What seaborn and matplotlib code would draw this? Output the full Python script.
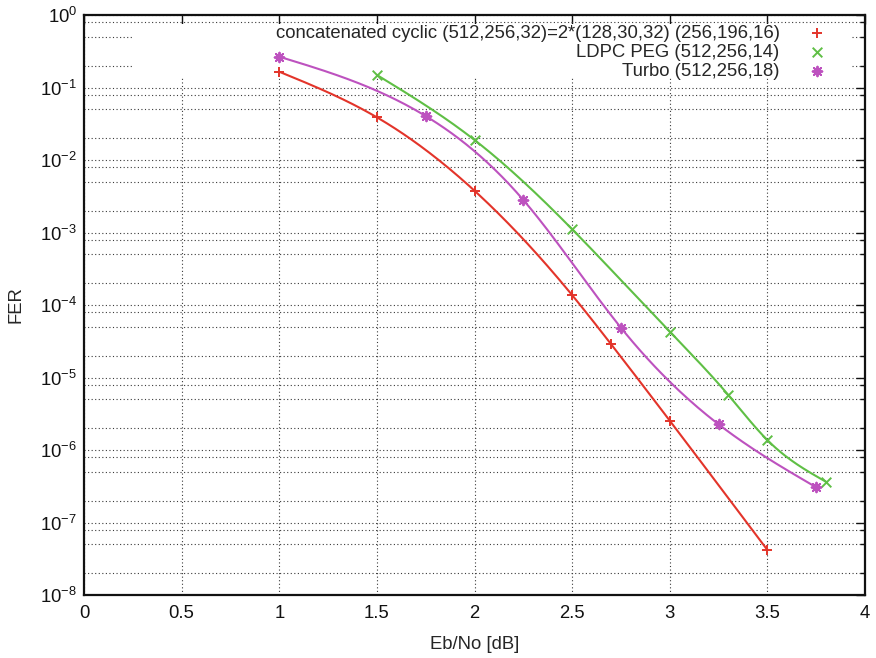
import numpy as np
import pandas as pd
import matplotlib
matplotlib.use("Agg")
import matplotlib.pyplot as plt
import matplotlib.ticker as mticker
from matplotlib.patches import Rectangle
import seaborn as sns

# FER vs Eb/No values
cyc_ebno = [1.0, 1.5, 2.0, 2.5, 2.7, 3.0, 3.5]
cyc_fer = [0.165, 0.0388, 0.00377, 1.37e-4, 2.87e-5, 2.54e-6, 4.18e-8]

ldpc_ebno = [1.5, 2.0, 2.5, 3.0, 3.3, 3.5, 3.8]
ldpc_fer = [0.149, 0.0189, 1.11e-3, 4.28e-5, 5.74e-6, 1.37e-6, 3.65e-7]

turbo_ebno = [1.0, 1.75, 2.25, 2.75, 3.25, 3.75]
turbo_fer = [0.266, 0.0404, 2.81e-3, 4.86e-5, 2.26e-6, 3.06e-7]

labels = ["concatenated cyclic (512,256,32)=2*(128,30,32) (256,196,16)",
          "LDPC PEG (512,256,14)",
          "Turbo (512,256,18)"]
colors = ["#e3342a", "#5fbf45", "#bd52bf"]
markers = ["+", "x", (8, 2, 0)]

sns.set_theme(style="white")
plt.rcParams["font.family"] = ["Liberation Sans", "DejaVu Sans"]
plt.rcParams["axes.unicode_minus"] = False
plt.rcParams["mathtext.default"] = "regular"


def csplines(x, y, n=300):
    # natural cubic spline (like gnuplot "smooth csplines"), done in log10 space
    x = np.asarray(x, float)
    y = np.log10(np.asarray(y, float))
    h = np.diff(x)
    k = len(x)
    A = np.zeros((k, k))
    b = np.zeros(k)
    A[0, 0] = A[-1, -1] = 1
    for i in range(1, k - 1):
        A[i, i - 1] = h[i - 1]
        A[i, i] = 2 * (h[i - 1] + h[i])
        A[i, i + 1] = h[i]
        b[i] = 6 * ((y[i + 1] - y[i]) / h[i] - (y[i] - y[i - 1]) / h[i - 1])
    M = np.linalg.solve(A, b)
    xs = np.linspace(x[0], x[-1], n)
    idx = np.clip(np.searchsorted(x, xs) - 1, 0, k - 2)
    x0, x1, hh = x[idx], x[idx + 1], h[idx]
    ys = (M[idx] * (x1 - xs) ** 3 + M[idx + 1] * (xs - x0) ** 3) / (6 * hh) \
        + (y[idx] / hh - M[idx] * hh / 6) * (x1 - xs) \
        + (y[idx + 1] / hh - M[idx + 1] * hh / 6) * (xs - x0)
    return xs, 10 ** ys


fig = plt.figure(figsize=(8.76, 6.58), dpi=100)
ax = fig.add_axes([84 / 876, 63 / 658, 781 / 876, 580 / 658])

series = [(cyc_ebno, cyc_fer), (ldpc_ebno, ldpc_fer), (turbo_ebno, turbo_fer)]
for (xv, yv), lab, c, m in zip(series, labels, colors, markers):
    xs, ys = csplines(xv, yv)
    sns.lineplot(x=xs, y=ys, color=c, linewidth=1.5, ax=ax, sort=False, zorder=2)
    df = pd.DataFrame({"ebno": xv, "fer": yv})
    sns.scatterplot(data=df, x="ebno", y="fer", marker=m, color=c, s=48,
                    linewidth=1.4, ax=ax, label=lab, zorder=3)

ax.set_yscale("log")
ax.set_xlim(0, 4)
ax.set_ylim(1e-8, 1)
ax.xaxis.set_major_locator(mticker.MultipleLocator(0.5))
ax.xaxis.set_major_formatter(mticker.FuncFormatter(lambda v, p: f"{v:g}"))
ax.yaxis.set_major_locator(mticker.LogLocator(base=10, numticks=20))
ax.yaxis.set_minor_locator(mticker.LogLocator(base=10, subs=(2, 5, 8), numticks=20))
ax.yaxis.set_major_formatter(mticker.FuncFormatter(lambda v, p: "$10^{%d}$" % round(np.log10(v))))
ax.yaxis.set_minor_formatter(mticker.NullFormatter())

ax.set_axisbelow(True)
grid_kw = dict(color="#3a3a3a", linestyle=(0, (1, 2.2)), linewidth=0.8)
ax.grid(True, which="major", axis="both", **grid_kw)
ax.grid(True, which="minor", axis="y", **grid_kw)

ax.tick_params(which="both", direction="in", top=True, right=True,
               labelsize=13.3, colors="#111111")
ax.tick_params(which="major", length=6.5, width=1.0)
ax.tick_params(which="minor", length=3.3, width=1.0)
ax.tick_params(axis="x", pad=7)
ax.tick_params(axis="y", pad=5)
for s in ax.spines.values():
    s.set_linewidth(1.6)
    s.set_color("#111111")

ax.set_xlabel("Eb/No [dB]", fontsize=13.3, labelpad=10)
ax.set_ylabel("FER", fontsize=13.3, labelpad=11)

# opaque key area hides the grid behind the legend
ax.add_patch(Rectangle((0.063, 0.893), 0.920, 0.091, transform=ax.transAxes,
                       facecolor="white", edgecolor="none", zorder=1))

leg = ax.legend(loc="upper right", bbox_to_anchor=(0.9616, 0.983), frameon=False,
                markerfirst=False, fontsize=13.3, labelspacing=0.1,
                handletextpad=1.0, handlelength=2.0, borderpad=0, borderaxespad=0)

fig.savefig("out.png", dpi=100)
